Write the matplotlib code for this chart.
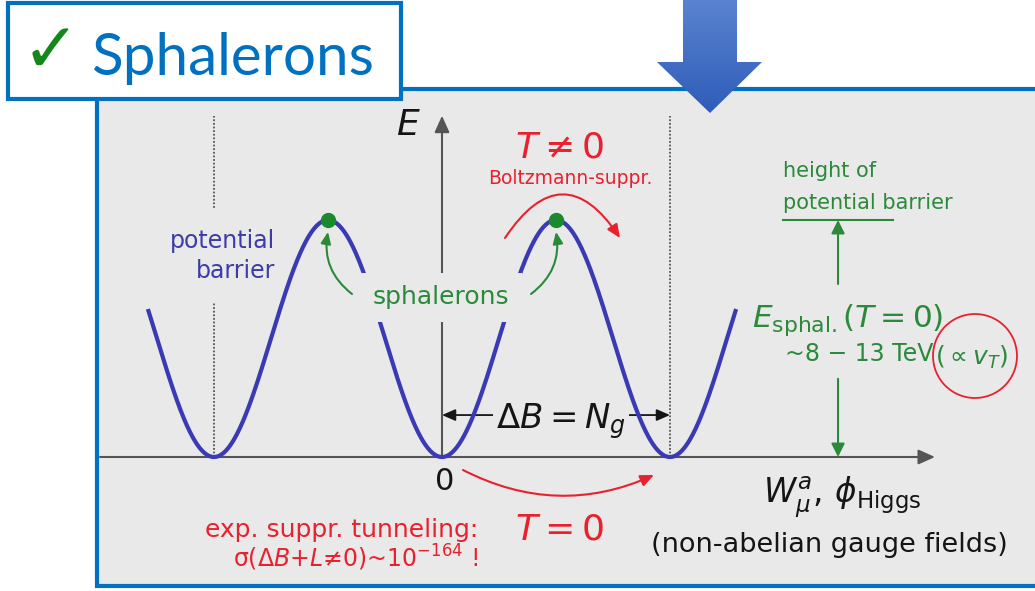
import numpy as np
import matplotlib.pyplot as plt
from matplotlib.patches import Rectangle, Circle, Polygon
from matplotlib.colors import LinearSegmentedColormap

# periodic vacuum structure: Chern-Simons number of vacua / sphalerons, E in units of E_sph
vacua = [-1, 0, 1]
sphalerons = [-0.5, 0.5]
e_sph = 1.0
ncs_span = [-1.29, 1.29]
axis_left, axis_right, axis_top = -1.5, 2.162, 1.44
delta_b_level = 0.177
barrier_marker_x = 1.737
barrier_marker_span = [1.495, 1.98]
barrier_arrow_gap = [0.33, 0.73]

# pixel layout of the slide
W, H = 1035, 591
origin = (442, 457)   # pixel of N_CS = 0, E = 0
unit = (228, 237)     # pixels per unit of N_CS and of E_sph

BLUE = '#3a3ab4'
GREEN = '#2a8a3a'
RED = '#e8212e'
PANEL = '#e9e9e9'
FRAME = '#0070c0'
GRAY = '#555555'
INK = '#151515'

fig = plt.figure(figsize=(W / 100, H / 100), dpi=100)
bg = fig.add_axes([0, 0, 1, 1])
ax = fig.add_axes([0, 0, 1, 1])
ax.set_xlim(-origin[0] / unit[0], (W - origin[0]) / unit[0])
ax.set_ylim((origin[1] - H) / unit[1], origin[1] / unit[1])
ax.axis('off')
px = bg.transData

# slide decoration
bg.add_patch(Rectangle((97, 89), 1000, 497, fc=PANEL, ec=FRAME, lw=3, zorder=1))
bg.add_patch(Rectangle((8, 3), 393, 96, fc='white', ec=FRAME, lw=3, zorder=4))
bg.text(51, 52, '\u2713', ha='center', va='center', fontsize=50, color='#12881a',
        family='DejaVu Sans', zorder=5)
bg.text(91, 75, 'Sphalerons', fontsize=42, family=['Lato', 'DejaVu Sans'],
        color=FRAME, va='baseline', zorder=5)

arrow_pts = [(683, -2), (737, -2), (737, 62), (762, 62), (710, 113), (657, 62), (683, 62)]
poly = Polygon(arrow_pts, closed=True, fc='none', ec='none', zorder=5)
bg.add_patch(poly)
cmap = LinearSegmentedColormap.from_list('arr', ['#5b84d0', '#2e5cb8'])
im = bg.imshow(np.linspace(0, 1, 100)[:, None], cmap=cmap, extent=(657, 762, 113, -2),
               aspect='auto', zorder=5)
im.set_clip_path(poly)
bg.add_patch(Circle((975, 356), 42, fill=False, ec=RED, lw=1.3, zorder=3))
bg.set_xlim(0, W)
bg.set_ylim(H, 0)
bg.axis('off')

# potential curve
x = np.linspace(ncs_span[0], ncs_span[1], 800)
ax.plot(x, e_sph * np.sin(np.pi * x) ** 2, color=BLUE, lw=3, zorder=3,
        solid_capstyle='butt')
ax.plot(sphalerons, [e_sph] * len(sphalerons), 'o', color='#1b8a2e', ms=10, zorder=6)

# dotted lines through the outer vacua
for v in (vacua[0], vacua[-1]):
    ax.plot([v, v], [0, axis_top], color=GRAY, lw=1.3, ls=(0, (1, 1)), zorder=1)

# coordinate axes
head = dict(arrowstyle='-|>,head_length=1.0,head_width=0.45', color=GRAY, lw=1.5,
            shrinkA=0, shrinkB=0)
ax.annotate('', xy=(axis_right, 0), xytext=(axis_left, 0), arrowprops=head, zorder=2)
ax.annotate('', xy=(0, axis_top), xytext=(0, 0), arrowprops=head, zorder=2)

# Delta B = N_g arrow
ax.annotate('', xy=(vacua[-1], delta_b_level), xytext=(vacua[1], delta_b_level),
            arrowprops=dict(arrowstyle='<|-|>,head_length=0.8,head_width=0.35', color=INK,
                            lw=1.3, shrinkA=0, shrinkB=0), zorder=2)
ax.text(561, 428, r'$\Delta B = N_g$', transform=px, ha='center', va='baseline',
        fontsize=24.5, color=INK, zorder=2.5,
        bbox=dict(boxstyle='square,pad=0.1', fc=PANEL, ec='none'))

# height of barrier marker
ax.plot(barrier_marker_span, [e_sph, e_sph], color=GREEN, lw=1.5, zorder=2)
gh = dict(arrowstyle='-|>,head_length=0.8,head_width=0.4', color=GREEN, lw=1.5,
          shrinkA=0, shrinkB=0)
ax.annotate('', xy=(barrier_marker_x, e_sph), xytext=(barrier_marker_x, barrier_arrow_gap[1]),
            arrowprops=gh, zorder=2)
ax.annotate('', xy=(barrier_marker_x, 0), xytext=(barrier_marker_x, barrier_arrow_gap[0]),
            arrowprops=gh, zorder=2)

# labels
ax.text(408, 125, r'$E$', transform=px, ha='center', va='center', fontsize=26, color=INK)
ax.text(445, 481, '0', transform=px, ha='center', va='center', fontsize=22, color=INK)
ax.text(275, 256, 'potential\nbarrier', transform=px, ha='right', va='center',
        fontsize=17, color='#3c3ca8', linespacing=1.35, zorder=1.5,
        bbox=dict(boxstyle='square,pad=0.85', fc=PANEL, ec='none'))
ax.text(441, 297, 'sphalerons', transform=px, ha='center', va='center', fontsize=18,
        color=GREEN, zorder=4, bbox=dict(boxstyle='square,pad=0.5', fc=PANEL, ec='none'))

ga = dict(arrowstyle='-|>,head_length=0.7,head_width=0.3', color=GREEN, lw=1.5,
          shrinkA=0, shrinkB=0)
ax.annotate('', xy=(sphalerons[0], 0.95), xytext=(352, 294), textcoords=px,
            arrowprops=dict(ga, connectionstyle='arc3,rad=-0.3'), zorder=5)
ax.annotate('', xy=(sphalerons[1], 0.95), xytext=(531, 294), textcoords=px,
            arrowprops=dict(ga, connectionstyle='arc3,rad=0.3'), zorder=5)

ax.text(560, 147, r'$T \neq 0$', transform=px, ha='center', va='center', fontsize=26, color=RED)
ax.text(570, 178, 'Boltzmann-suppr.', transform=px, ha='center', va='center',
        fontsize=13.5, color=RED)
ra = dict(arrowstyle='-|>,head_length=0.8,head_width=0.35', color=RED, lw=1.5,
          shrinkA=0, shrinkB=0)
ax.annotate('', xy=(620, 238), xycoords=px, xytext=(505, 238), textcoords=px,
            arrowprops=dict(ra, connectionstyle='arc3,rad=-0.75'), zorder=5)
ax.annotate('', xy=(654, 475), xycoords=px, xytext=(463, 470), textcoords=px,
            arrowprops=dict(ra, connectionstyle='arc3,rad=0.24'), zorder=5)

ax.text(560, 529, r'$T = 0$', transform=px, ha='center', va='center', fontsize=26, color=RED)
ax.text(478, 537, 'exp. suppr. tunneling:', transform=px, ha='right', va='baseline',
        fontsize=18, color=RED)
ax.text(478, 567, 'σ($\\Delta B$+$L$≠0)~10$^{-164}$ !', transform=px, ha='right',
        va='baseline', fontsize=17, color=RED)

ax.text(783, 171, 'height of', transform=px, ha='left', va='center', fontsize=15, color=GREEN)
ax.text(783, 203, 'potential barrier', transform=px, ha='left', va='center', fontsize=15,
        color=GREEN)
ax.text(752, 327, r'$E_{\mathrm{sphal.}}(T = 0)$', transform=px, ha='left', va='baseline',
        fontsize=22.5, color=GREEN)
ax.text(785, 361, '~8 − 13 TeV', transform=px, ha='left', va='baseline', fontsize=17,
        color=GREEN)
ax.text(972, 357, r'$\left(\propto v_T\right)$', transform=px, ha='center', va='center',
        fontsize=18, color=GREEN)

ax.text(842, 503, r'$W_{\mu}^{a},\,\phi_{\mathrm{Higgs}}$', transform=px, ha='center',
        va='baseline', fontsize=23.5, color=INK)
ax.text(829, 545, '(non-abelian gauge fields)', transform=px, ha='center', va='center',
        fontsize=19.5, color=INK)

fig.savefig('out.png', dpi=100)
